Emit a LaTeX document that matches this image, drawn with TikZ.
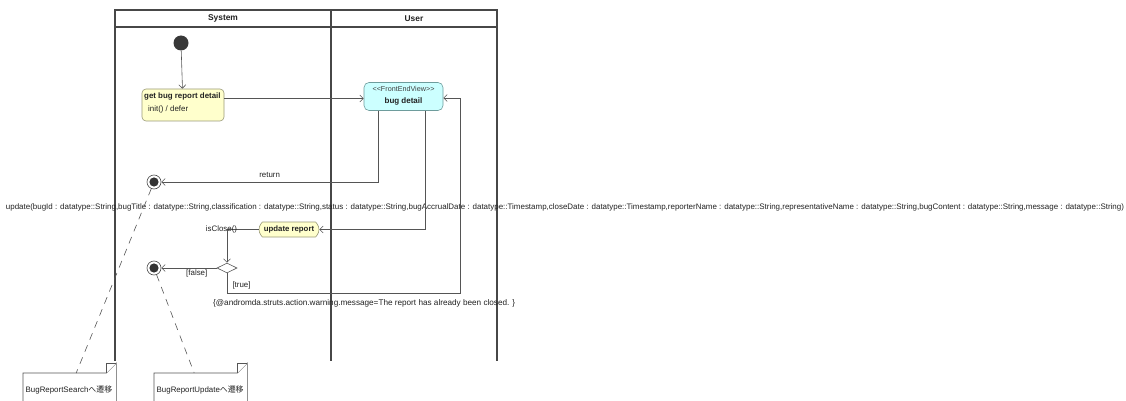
\documentclass[tikz,border=0pt]{standalone}
\usepackage{fontspec}
\setmainfont{Liberation Sans}
\newfontfamily\cjk{Noto Sans CJK JP}
\usetikzlibrary{arrows.meta,shapes.geometric,shapes.misc}
\definecolor{actfill}{HTML}{FFFFCC}
\definecolor{actline}{HTML}{9A9A78}
\definecolor{viewfill}{HTML}{CCFFFF}
\definecolor{viewline}{HTML}{6E9C9C}
\definecolor{ink}{HTML}{222222}
\definecolor{wire}{HTML}{555555}
\newcommand{\fs}[1]{\fontsize{#1}{#1}\selectfont}
\begin{document}
\begin{tikzpicture}[x=1pt,y=-1pt,
  lane/.style={draw=black!72,line width=1.3pt},
  flow/.style={draw=wire,line width=0.6pt,-{Straight Barb[length=3.5pt,width=7pt]}},
  txt/.style={text=ink,inner sep=0pt,font=\fs{7.9}},
  act/.style={draw=actline,fill=actfill,rounded corners=4pt,line width=0.6pt,inner sep=0pt},
  view/.style={draw=viewline,fill=viewfill,rounded corners=5pt,line width=0.6pt,inner sep=0pt},
  final/.style={circle,draw=black!70,fill=white,line width=0.6pt,minimum size=14pt,inner sep=0pt,
    path picture={\fill[black!80] (path picture bounding box.center) circle (4.6pt);}},
  notelink/.style={draw=wire,line width=0.6pt,dash pattern=on 7pt off 6pt},
  notebox/.style={draw=wire,fill=white,line width=0.6pt}
]
\useasboundingbox (0,0) rectangle (1126,401);

% swimlane frame
\draw[lane] (115,361) -- (115,10) -- (497,10) -- (497,361);
\draw[lane] (115,27) -- (497,27);
\draw[lane] (331,10) -- (331,361);
\node[txt,font=\bfseries\fs{8.4}] (hsys) at (223,18.5) {System};
\node[txt,font=\bfseries\fs{8.4}] (husr) at (414,18.5) {User};

% long operation signature
\node[txt] (sig) at (565,207) {\resizebox{1118pt}{!}{\fs{7.5}update(bugId : datatype::String,bugTitle : datatype::String,classification : datatype::String,status : datatype::String,bugAccrualDate : datatype::Timestamp,closeDate : datatype::Timestamp,reporterName : datatype::String,representativeName : datatype::String,bugContent : datatype::String,message : datatype::String)}};

% states
\node[circle,fill=black!78,minimum size=15pt,inner sep=0pt] (init) at (181,43) {};

\node[act,minimum width=82pt,minimum height=32pt] (getd) at (183,105) {};
\node[txt,anchor=west,font=\bfseries\fs{7.9}] (getdt) at (144,96.5) {get bug report detail};
\node[txt,anchor=west] (getdb) at (148,109.5) {init() / defer};

\node[view,minimum width=79pt,minimum height=28pt] (bd) at (403.5,96.5) {};
\node[txt,font=\fs{7.2},text=black!75] (bds) at (403.5,89) {{<}{<}FrontEndView{>}{>}};
\node[txt,font=\bfseries\fs{8}] (bdt) at (403.5,101.5) {bug detail};

\node[act,rounded rectangle,minimum width=60pt,minimum height=15pt,font=\bfseries\fs{7.8},text=ink] (upd) at (289,229.5) {update report};

\node[diamond,draw=wire,fill=white,line width=0.6pt,minimum width=20pt,minimum height=10pt,inner sep=0pt] (dec) at (227,268) {};

\node[final] (fin1) at (154,182) {};
\node[final] (fin2) at (154,268) {};

% transitions
\draw[flow] (init) -- (getd);
\draw[flow] (getd.east |- 0,98.5) -- (bd.west |- 0,98.5);
\draw[flow] ([xshift=-25.5pt]bd.south) |- (fin1) node[txt,pos=0.75,above=4pt] (lret) {return};
\draw[flow] ([xshift=21.5pt]bd.south) |- (upd);
\draw[flow] (upd.west) -| (dec.north) node[txt,pos=0.5,xshift=-5.5pt] (lclose) {isClose()};
\draw[flow] (dec.west) -- (fin2) node[txt,pos=0.36,below=1pt] (lfalse) {[false]};
\coordinate (tcorner) at (460,293);
\draw[flow] (dec.south) |- (tcorner) |- ([yshift=-1.5pt]bd.east);
\node[txt] (ltrue) at (241.5,285) {[true]};
\node[txt,anchor=west] (warn) at (213,303.5) {\resizebox{302pt}{!}{\fs{8}\{@andromda.struts.action.warning.message=The report has already been closed. \}}};

% notes
\node[minimum width=93pt,minimum height=32pt,inner sep=0pt,anchor=north west] (n1) at (23,373) {};
\draw[notebox] (n1.south west) -- (n1.north west) -- ([xshift=-10pt]n1.north east) -- ([yshift=10pt]n1.north east) -- (n1.south east);
\draw[notebox] ([xshift=-10pt]n1.north east) |- ([yshift=10pt]n1.north east);
\node[txt,anchor=west] (n1t) at (25.5,390) {BugReportSearch{\cjk へ遷移}};

\node[minimum width=93pt,minimum height=32pt,inner sep=0pt,anchor=north west] (n2) at (154,373) {};
\draw[notebox] (n2.south west) -- (n2.north west) -- ([xshift=-10pt]n2.north east) -- ([yshift=10pt]n2.north east) -- (n2.south east);
\draw[notebox] ([xshift=-10pt]n2.north east) |- ([yshift=10pt]n2.north east);
\node[txt,anchor=west] (n2t) at (156.5,390) {BugReportUpdate{\cjk へ遷移}};

\draw[notelink] (fin1) -- ([xshift=6.5pt]n1.north);
\draw[notelink] (fin2) -- ([xshift=-6.5pt]n2.north);
\end{tikzpicture}
\end{document}
